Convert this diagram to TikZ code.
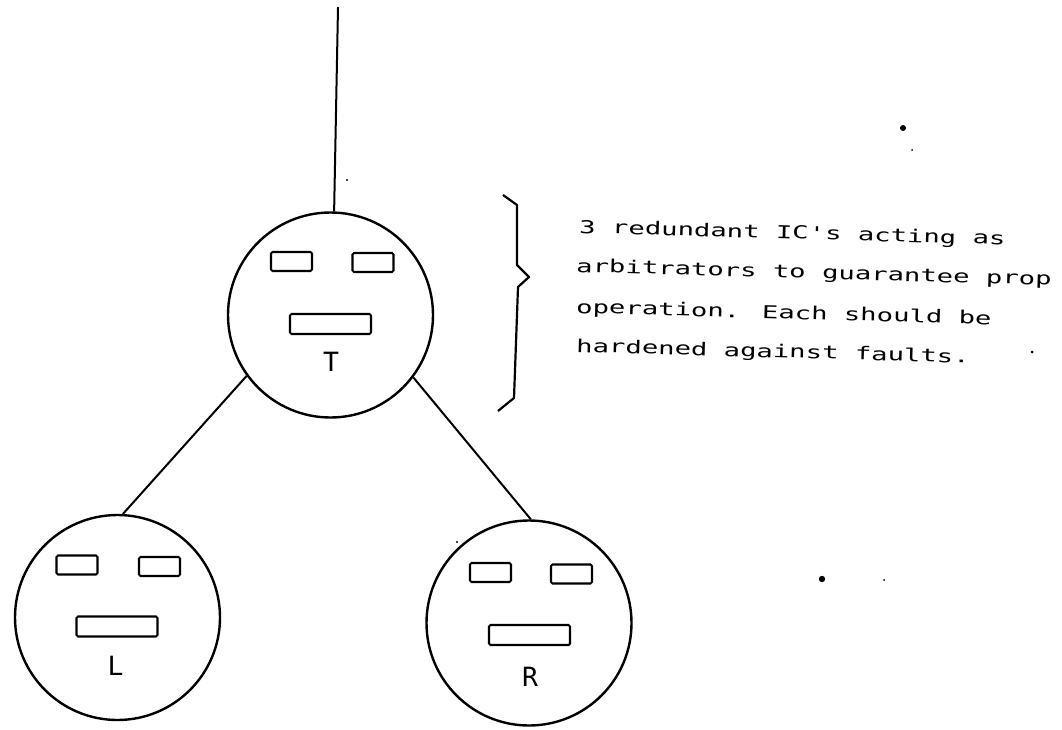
\documentclass[tikz,border=0pt]{standalone}
\usepackage{fontspec}
\newfontfamily\plotfont{DejaVu Sans Mono}
\begin{document}
\begin{tikzpicture}[x=1pt,y=-1pt,
  face/.style={circle,draw,line width=2.4pt,minimum size=205pt,inner sep=0pt},
  feature/.style={draw,line width=2.1pt,rounded corners=1.5pt,inner sep=0pt},
  eyebox/.style={feature,minimum width=41pt,minimum height=19pt},
  mouthbox/.style={feature,minimum width=81pt,minimum height=20pt},
  lab/.style={font=\plotfont\fontsize{26.5}{26.5}\selectfont,inner sep=0pt},
  note/.style={font=\plotfont\fontsize{17.8}{17.8}\selectfont,inner sep=0pt,anchor=base west,rotate=-1.6},
  wire/.style={line width=2pt},
  speck/.style={fill=black}]
\useasboundingbox (0,0) rectangle (1062,730);
% faces
\node[face] (T) at (330.5,315) {};
\node[face] (L) at (117.5,617.5) {};
\node[face] (R) at (529,623) {};
% top face features
\node[eyebox] (Tel) at (291.5,261.5) {};
\node[eyebox] (Ter) at (373,262.5) {};
\node[mouthbox] (Tm) at (330.5,324) {};
\node[lab] (Tl) at (331,362) {T};
% left face features
\node[eyebox] (Lel) at (77,565) {};
\node[eyebox] (Ler) at (159.5,566.5) {};
\node[mouthbox] (Lm) at (117,626.5) {};
\node[lab] (Ll) at (115.5,665.5) {L};
% right face features
\node[eyebox] (Rel) at (490.5,572.5) {};
\node[eyebox] (Rer) at (571.5,574) {};
\node[mouthbox] (Rm) at (529.5,635) {};
\node[lab] (Rl) at (530,677) {R};
% connectors
\coordinate (top) at (338,7);
\draw[wire] (top) -- (T.88);
\draw[wire] (T.-144.6) -- (L.87.5);
\draw[wire] (T.-37.5) -- (R.89);
% brace
\draw[line width=2.2pt,line join=round] (503,195) -- (517,205) -- (517,265) -- (529,277) -- (518,287) -- (514,398) -- (498,411);
% note
\node[note] (n1) at (579,233) {\scalebox{1.53}[1]{3 redundant IC's acting as}};
\node[note] (n2) at (576,272) {\scalebox{1.53}[1]{arbitrators to guarantee prop}};
\node[note] (n3) at (576,313) {\scalebox{1.53}[1]{operation. Each should be}};
\node[note] (n4) at (576,352) {\scalebox{1.53}[1]{hardened against faults.}};
% specks
\fill[speck] (903,128) circle (3);
\fill[speck] (912,150) circle (1);
\fill[speck] (822,579) circle (3.2);
\fill[speck] (884,580) circle (1);
\fill[speck] (457,542) circle (1.2);
\fill[speck] (347,180) circle (1.2);
\fill[speck] (1032,352) circle (1.5);
\end{tikzpicture}
\end{document}
